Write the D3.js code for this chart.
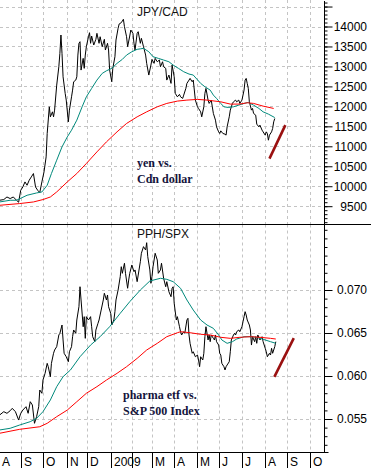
<!DOCTYPE html>
<html>
<head>
<meta charset="utf-8">
<script src="https://cdn.jsdelivr.net/npm/d3@7"></script>
<style>
  body { margin: 0; background: #fff; }
  svg { display: block; }
</style>
</head>
<body>
<div id="chart"></div>
<script>
const width = 371;
const height = 468;
const axisX = 324.5;      // right axis line
const splitY = 224.5;     // line between the two panels
const bottomY = 452.5;    // x axis line

// x axis: trading day index from start of Aug 2008
const months = ["A", "S", "O", "N", "D", "2009", "", "M", "A", "M", "J", "J", "A", "S", "O"];
const monthStart = [0, 21, 42, 65, 84, 106, 126, 145, 166, 188, 208, 230, 252, 273, 294];

// top panel: JPY/CAD
const jpyTicks = [9500, 10000, 10500, 11000, 11500, 12000, 12500, 13000, 13500, 14000, 14500];
const jpycad = [[1,9649],[5,9666],[8,9731],[11,9691],[14,9731],[17,9649],[19,9599],[21,9899],[23,9982],[25,10108],[27,10025],[29,10150],[31,10233],[33,10318],[35,9982],[37,9899],[39,9842],[41,10108],[43,10358],[45,10735],[46,11322],[48,11989],[49,11738],[51,11863],[52,11738],[53,11906],[55,12533],[57,12992],[58,13328],[59,13787],[60,13328],[61,12741],[63,12325],[64,12157],[66,11612],[67,11906],[69,12239],[70,12407],[71,12616],[73,12658],[74,12741],[75,13285],[76,13579],[77,13619],[78,12909],[80,13202],[81,12952],[82,13285],[83,13494],[85,13744],[86,13845],[87,13579],[88,13762],[90,13536],[92,13679],[93,13829],[95,13579],[96,13744],[98,13494],[100,13679],[101,13411],[103,13579],[104,13411],[105,12909],[107,12616],[108,12952],[110,13243],[111,13661],[113,13955],[114,14063],[116,14096],[118,14181],[119,13995],[121,13744],[122,13494],[124,13762],[125,13912],[127,13829],[128,13579],[129,13411],[131,13829],[132,13870],[134,13579],[135,13704],[137,13494],[139,13285],[140,13077],[142,12784],[144,13034],[145,13177],[147,13077],[148,13202],[150,13117],[152,13160],[153,12992],[155,13117],[156,12992],[158,12952],[159,12658],[161,12784],[163,12575],[164,13034],[166,12741],[167,12325],[169,12239],[171,12300],[172,12239],[174,12199],[175,12282],[177,12450],[178,12575],[180,12658],[181,12700],[183,12616],[184,12658],[186,12157],[188,11989],[189,11948],[191,11863],[192,11738],[194,11989],[195,12325],[196,12450],[198,12157],[199,12074],[201,12157],[202,11989],[203,11823],[205,11655],[206,11487],[208,11362],[209,11321],[210,11387],[212,11321],[214,11304],[215,11279],[216,11487],[218,11738],[219,11906],[221,12074],[222,12114],[224,12157],[225,12114],[227,12157],[228,12074],[230,12157],[232,12407],[233,12658],[234,12700],[235,12575],[236,12450],[237,12114],[239,11906],[240,11948],[241,11823],[243,11780],[244,11555],[246,11487],[247,11530],[249,11404],[250,11362],[252,11279],[253,11362],[254,11321],[255,11153],[256,11279],[258,11362],[259,11446],[260,11612],[261,11696]];
const jpyShortMA = [[1,9606],[11,9649],[17,9649],[27,9774],[36,9832],[41,9857],[46,10025],[50,10318],[55,10652],[60,10985],[65,11236],[69,11404],[74,11655],[79,11989],[83,12239],[88,12450],[93,12658],[98,12826],[102,12891],[107,12952],[112,13077],[117,13177],[121,13285],[126,13368],[131,13428],[134,13440],[137,13453],[142,13368],[146,13243],[151,13202],[156,13160],[161,13117],[165,13034],[170,12952],[175,12867],[180,12809],[184,12784],[191,12575],[195,12491],[200,12407],[203,12282],[206,12199],[210,12074],[213,11989],[217,11973],[222,11989],[227,12031],[232,12074],[236,12099],[241,12031],[246,11948],[250,11863],[255,11806],[261,11720]];
const jpyLongMA = [[1,9523],[20,9566],[33,9606],[42,9666],[49,9731],[55,9857],[65,10108],[74,10318],[83,10569],[93,10860],[102,11111],[112,11362],[121,11572],[131,11738],[140,11863],[150,11989],[159,12074],[169,12132],[178,12157],[188,12174],[197,12157],[210,12114],[219,12057],[228,12057],[235,12090],[241,12074],[250,12006],[260,11948]];
const jpyArrow = [[256,10690],[271,11530]];

// bottom panel: PPH/SPX
const pphTicks = [0.055, 0.060, 0.065, 0.070];
const pphspx = [[1,.05546],[5,.05585],[8,.05566],[11,.05596],[13,.05624],[16,.05585],[19,.05488],[21,.05566],[23,.05604],[26,.05643],[28,.05566],[30,.05701],[32,.05663],[34,.05450],[36,.05527],[38,.05643],[39,.05837],[41,.05799],[42,.05953],[44,.06031],[46,.06147],[47,.06108],[49,.05992],[50,.06147],[52,.06264],[53,.06302],[55,.06341],[57,.06477],[58,.06496],[60,.06593],[61,.06419],[62,.06264],[64,.06224],[66,.06166],[67,.06282],[69,.06341],[70,.06457],[71,.06535],[73,.06496],[74,.06651],[76,.06806],[77,.07038],[78,.06884],[80,.06573],[81,.06690],[82,.06438],[83,.06690],[85,.06651],[87,.06690],[88,.06573],[89,.06457],[91,.06399],[92,.06535],[94,.06613],[95,.06651],[97,.06767],[99,.06884],[100,.06962],[102,.06884],[103,.06942],[104,.06806],[106,.06729],[107,.06593],[109,.06651],[110,.06748],[111,.06884],[113,.07000],[115,.07155],[116,.07271],[117,.07194],[119,.07311],[120,.07194],[122,.07020],[123,.07116],[124,.07194],[126,.07291],[128,.07213],[129,.07233],[131,.07097],[132,.07174],[134,.07329],[135,.07427],[137,.07504],[139,.07465],[140,.07550],[141,.07388],[143,.07233],[144,.07078],[145,.07155],[146,.07271],[148,.07427],[150,.07349],[151,.07194],[153,.07233],[154,.07311],[156,.07136],[158,.07038],[159,.07097],[161,.06980],[163,.06922],[164,.07020],[165,.07038],[166,.06845],[168,.06651],[169,.06690],[171,.06573],[172,.06515],[173,.06477],[175,.06515],[176,.06496],[178,.06651],[179,.06671],[180,.06477],[181,.06380],[183,.06264],[184,.06282],[186,.06224],[188,.06244],[189,.06186],[190,.06108],[191,.06224],[193,.06186],[194,.06264],[195,.06457],[196,.06573],[198,.06419],[199,.06477],[200,.06399],[201,.06477],[203,.06438],[204,.06419],[205,.06477],[206,.06399],[208,.06360],[209,.06264],[210,.06244],[211,.06147],[213,.06108],[214,.06070],[215,.06108],[216,.06128],[218,.06166],[219,.06282],[220,.06419],[222,.06477],[223,.06496],[224,.06477],[225,.06515],[227,.06535],[228,.06515],[230,.06573],[231,.06631],[232,.06690],[233,.06748],[234,.06709],[235,.06651],[237,.06593],[238,.06535],[239,.06360],[240,.06457],[242,.06399],[243,.06457],[244,.06380],[245,.06477],[247,.06419],[248,.06438],[249,.06457],[250,.06399],[252,.06322],[253,.06282],[254,.06224],[256,.06264],[257,.06244],[258,.06322],[259,.06264],[261,.06341],[262,.06399]];
const pphShortMA = [[1,.05372],[11,.05392],[20,.05430],[30,.05469],[36,.05508],[42,.05585],[49,.05721],[55,.05876],[61,.05992],[68,.06070],[77,.06224],[87,.06360],[96,.06457],[105,.06573],[115,.06729],[124,.06864],[134,.07000],[143,.07105],[153,.07136],[159,.07124],[165,.07097],[172,.07020],[178,.06884],[184,.06767],[191,.06651],[197,.06593],[203,.06554],[208,.06477],[211,.06419],[216,.06380],[221,.06399],[225,.06430],[232,.06457],[238,.06457],[244,.06450],[250,.06427],[257,.06399],[262,.06380]];
const pphLongMA = [[1,.05334],[20,.05380],[39,.05410],[46,.05450],[55,.05527],[65,.05604],[74,.05701],[83,.05799],[93,.05876],[102,.05953],[112,.06031],[121,.06108],[131,.06205],[140,.06302],[150,.06380],[159,.06457],[169,.06503],[172,.06515],[181,.06503],[191,.06485],[200,.06477],[210,.06450],[219,.06438],[228,.06450],[238,.06457],[247,.06450],[257,.06438],[262,.06430]];
const pphArrow = [[260.6,.0599],[279,.0644]];

const svg = d3.select('#chart').append('svg')
    .attr('width', width)
    .attr('height', height)
    .style('font-family', '"Liberation Sans", Arial, sans-serif');

const x = d3.scaleLinear().domain([0, 308]).range([-1.5, axisX]);
const yTop = d3.scaleLinear().domain([9500, 14000]).range([206.2, 26.5]);
const yBot = d3.scaleLinear().domain([0.055, 0.070]).range([419, 290]);

const gridColor = "#c4c4c4";

// draws one panel: grid, lines, right axis
function panel(y, y0, y1, ticks, minorStep, fmt, series, arrow) {
    const g = svg.append("g");

    // vertical grid at month starts
    g.append("g").selectAll("line")
        .data(monthStart.slice(1))
        .join("line")
        .attr("x1", d => Math.round(x(d)) + 0.5)
        .attr("x2", d => Math.round(x(d)) + 0.5)
        .attr("y1", y0).attr("y2", y1)
        .attr("stroke", gridColor)
        .attr("stroke-dasharray", "3,3");

    // horizontal grid at major ticks
    g.append("g").selectAll("line")
        .data(ticks)
        .join("line")
        .attr("x1", 0).attr("x2", axisX)
        .attr("y1", d => Math.round(y(d)) + 0.5)
        .attr("y2", d => Math.round(y(d)) + 0.5)
        .attr("stroke", gridColor)
        .attr("stroke-dasharray", "3,3");

    const line = d3.line().x(d => x(d[0])).y(d => y(d[1]));

    series.forEach(s => {
        g.append("path")
            .datum(s.data)
            .attr("fill", "none")
            .attr("stroke", s.color)
            .attr("stroke-width", s.w)
            .attr("stroke-linejoin", "round")
            .attr("d", line);
    });

    // hand drawn trend mark
    g.append("path")
        .datum(arrow)
        .attr("fill", "none")
        .attr("stroke", "#9a1010")
        .attr("stroke-width", 2.6)
        .attr("d", line);

    // minor ticks
    const lo = y.invert(y1), hi = y.invert(y0);
    const minors = d3.range(Math.ceil(lo / minorStep), Math.floor(hi / minorStep) + 1)
        .map(k => k * minorStep);
    g.append("g")
        .attr("transform", `translate(${axisX},0)`)
        .call(d3.axisRight(y).tickValues(minors).tickSize(3).tickFormat(""))
        .call(a => a.select(".domain").remove());

    // major ticks and labels
    g.append("g")
        .attr("transform", `translate(${axisX},0)`)
        .style("font-size", "12px")
        .call(d3.axisRight(y).tickValues(ticks).tickSize(8).tickFormat(fmt))
        .call(a => a.select(".domain").remove())
        .call(a => a.selectAll("text")
            .attr("x", 367 - axisX)
            .attr("text-anchor", "end")
            .attr("fill", "#000"));
}

panel(yTop, 0, splitY, jpyTicks, 100, d => d > 14000 ? "" : d,
    [{data: jpycad, color: "#000", w: 1},
     {data: jpyShortMA, color: "#00897b", w: 1},
     {data: jpyLongMA, color: "#ff0000", w: 1}], jpyArrow);

panel(yBot, splitY, bottomY, pphTicks, 0.001, d3.format(".3f"),
    [{data: pphspx, color: "#000", w: 1},
     {data: pphShortMA, color: "#00897b", w: 1},
     {data: pphLongMA, color: "#ff0000", w: 1}], pphArrow);

// frame lines
svg.append("line")
    .attr("x1", axisX).attr("x2", axisX).attr("y1", 1).attr("y2", bottomY)
    .attr("stroke", "#000");
svg.append("line")
    .attr("x1", 0).attr("x2", width).attr("y1", splitY).attr("y2", splitY)
    .attr("stroke", "#000");
svg.append("line")
    .attr("x1", 0).attr("x2", axisX + 4).attr("y1", bottomY).attr("y2", bottomY)
    .attr("stroke", "#000");

// month separators and labels
svg.append("g").selectAll("line")
    .data(monthStart)
    .join("line")
    .attr("x1", d => Math.round(x(d)) + 0.5)
    .attr("x2", d => Math.round(x(d)) + 0.5)
    .attr("y1", bottomY).attr("y2", height)
    .attr("stroke", "#000");

svg.append("g").selectAll("text")
    .data(months)
    .join("text")
    .attr("x", (d, i) => Math.round(x(monthStart[i])) + 3)
    .attr("y", 466)
    .style("font-size", "12px")
    .text(d => d);

// panel titles
svg.append("text").attr("x", 137).attr("y", 15.5)
    .style("font-size", "12px").attr("fill", "#111").text("JPY/CAD");
svg.append("text").attr("x", 137).attr("y", 237.5)
    .style("font-size", "12px").attr("fill", "#111").text("PPH/SPX");

// notes
const notes = [
    {t: "yen vs.", x: 137, y: 167},
    {t: "Cdn dollar", x: 137, y: 183},
    {t: "pharma etf vs.", x: 123, y: 399},
    {t: "S&P 500 Index", x: 123, y: 415}
];
svg.append("g").selectAll("text")
    .data(notes)
    .join("text")
    .attr("x", d => d.x)
    .attr("y", d => d.y)
    .style("font-family", '"Liberation Serif", "Times New Roman", serif')
    .style("font-weight", "bold")
    .style("font-size", "12px")
    .attr("fill", "#14143c")
    .text(d => d.t);
</script>
</body>
</html>
